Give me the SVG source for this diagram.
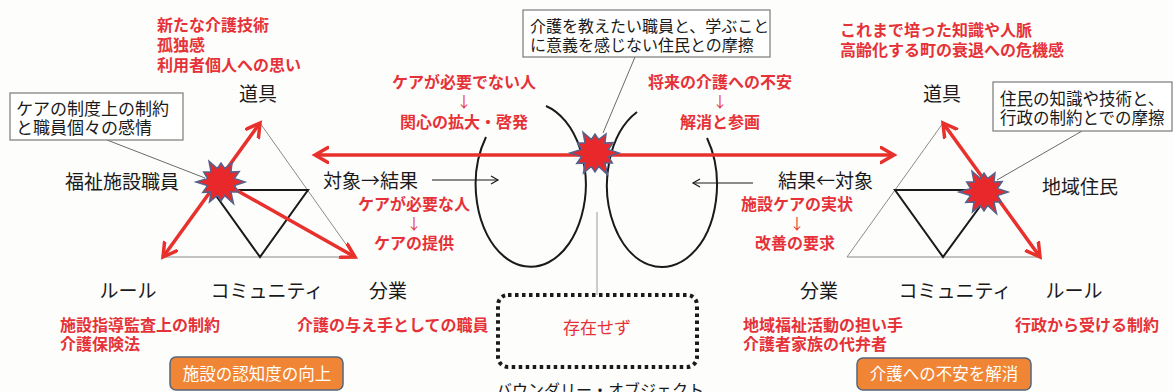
<svg xmlns="http://www.w3.org/2000/svg" width="1173" height="392" viewBox="0 0 1173 392">
<style>
text{font-family:"Noto Sans CJK JP","Noto Sans CJK SC",sans-serif;}
.k{fill:#1a1a1a;font-size:19px;}
.kb{fill:#1a1a1a;font-size:16px;}
.r{fill:#E53238;font-size:16px;font-weight:bold;}
.ar{fill:#E53238;font-size:15px;}
.w{fill:#ffffff;font-size:16.5px;}
.m{text-anchor:middle;}
.tri{fill:none;stroke:#8a8a8a;stroke-width:1;}
.inner{fill:none;stroke:#1a1a1a;stroke-width:2;stroke-linejoin:miter;}
.ra{stroke:#E8302D;stroke-width:3.5;fill:none;marker-start:url(#ah);marker-end:url(#ah);}
.ra1{stroke:#E8302D;stroke-width:3.5;fill:none;marker-end:url(#ah);}
.call{stroke:#6a6a6a;stroke-width:1;fill:none;}
.box{fill:#ffffff;stroke:#7a7a7a;stroke-width:1.2;}
.burst{fill:#E8282A;stroke:#56628E;stroke-width:1.5;stroke-linejoin:miter;}
.ell{fill:none;stroke:#1a1a1a;stroke-width:2;}
.sa{stroke:#1a1a1a;stroke-width:1.2;fill:none;marker-end:url(#sa);}
.ob{fill:#EF8535;stroke:#56657A;stroke-width:1.5;}
</style>
<defs>
<marker id="ah" markerUnits="userSpaceOnUse" markerWidth="18" markerHeight="20" refX="14" refY="9" orient="auto-start-reverse">
<path d="M1,1.5 L14,9 L1,16.5" stroke="#E8302D" stroke-width="3.5" fill="none" stroke-linecap="round" stroke-linejoin="miter"/>
</marker>
<marker id="sa" markerUnits="userSpaceOnUse" markerWidth="10" markerHeight="10" refX="8" refY="5" orient="auto">
<path d="M1,1 L8,5 L1,9" stroke="#1a1a1a" stroke-width="1.2" fill="none"/>
</marker>
<path id="bst" d="M24,0 L13.5,3.6 L17.3,10 L9.9,9.9 L12.5,21.7 L3.6,13.5 L0,19 L-3.6,13.5 L-11.5,19.9 L-9.9,9.9 L-18.2,10.5 L-13.5,3.6 L-25,0 L-13.5,-3.6 L-17.3,-10 L-9.9,-9.9 L-12,-20.8 L-3.6,-13.5 L0,-19 L3.6,-13.5 L11,-19.1 L9.9,-9.9 L18.2,-10.5 L13.5,-3.6 Z"/>
</defs>
<rect x="0" y="0" width="1173" height="392" fill="#FDFDFB"/>

<!-- Left activity system -->
<g id="left-system">
<polygon class="tri" points="260,123 163,257 355,257"/>
<polygon class="inner" points="212,190 308,190 260,257"/>
<text class="r" x="157" y="31">新たな介護技術</text>
<text class="r" x="157" y="51">孤独感</text>
<text class="r" x="157" y="71">利用者個人への思い</text>
<text class="k m" x="258" y="101">道具</text>
<text class="k m" x="122" y="189">福祉施設職員</text>
<text class="k" x="323" y="188">対象→結果</text>
<text class="r m" x="414" y="210">ケアが必要な人</text>
<text class="ar m" x="414" y="229">↓</text>
<text class="r m" x="414" y="249">ケアの提供</text>
<text class="k m" x="128" y="298">ルール</text>
<text class="k m" x="267" y="298">コミュニティ</text>
<text class="k m" x="388" y="298">分業</text>
<text class="r" x="60" y="331">施設指導監査上の制約</text>
<text class="r" x="60" y="350">介護保険法</text>
<text class="r" x="297" y="331">介護の与え手としての職員</text>
</g>

<!-- Right activity system -->
<g id="right-system">
<polygon class="tri" points="943,123 847,257 1040,257"/>
<polygon class="inner" points="895,190 992,190 943,257"/>
<text class="r" x="840" y="36">これまで培った知識や人脈</text>
<text class="r" x="840" y="56">高齢化する町の衰退への危機感</text>
<text class="k m" x="942" y="101">道具</text>
<text class="k m" x="1080" y="194">地域住民</text>
<text class="k" x="778" y="188">結果←対象</text>
<text class="r m" x="797" y="210">施設ケアの実状</text>
<text class="ar m" x="797" y="229">↓</text>
<text class="r m" x="795" y="249">改善の要求</text>
<text class="k m" x="819" y="298">分業</text>
<text class="k m" x="955" y="298">コミュニティ</text>
<text class="k m" x="1074" y="298">ルール</text>
<text class="r" x="743" y="331">地域福祉活動の担い手</text>
<text class="r" x="743" y="350">介護者家族の代弁者</text>
<text class="r" x="1015" y="331">行政から受ける制約</text>
</g>

<!-- Objects (ellipses) -->
<g id="objects">
<path class="ell" d="M486,137 A55,82 0 1 0 546,106"/>
<path class="ell" d="M637,112 A55,82 0 1 0 707,138"/>
<text class="r m" x="464" y="88">ケアが必要でない人</text>
<text class="ar m" x="464" y="107">↓</text>
<text class="r m" x="464" y="128">関心の拡大・啓発</text>
<text class="r m" x="720" y="88">将来の介護への不安</text>
<text class="ar m" x="720" y="107">↓</text>
<text class="r m" x="720" y="128">解消と参画</text>
</g>

<!-- Connectors -->
<g id="connectors">
<line class="sa" x1="432" y1="180" x2="498" y2="180"/>
<line class="sa" x1="753" y1="183" x2="693" y2="183"/>
<line class="call" x1="107" y1="140" x2="205" y2="178"/>
<line class="call" x1="635" y1="57" x2="603" y2="133"/>
<line class="call" x1="1082" y1="131" x2="997" y2="180"/>
<line x1="597" y1="212" x2="597" y2="295" stroke="#9a9a9a" stroke-width="1"/>
<line class="ra" x1="163" y1="257" x2="260" y2="123"/>
<line class="ra1" x1="222" y1="182" x2="355" y2="257"/>
<line class="ra" x1="943" y1="123" x2="1040" y2="257"/>
<line class="ra" x1="315" y1="155" x2="894" y2="155" stroke-width="4"/>
</g>

<!-- Contradiction bursts -->
<g id="burst-left"><use href="#bst" class="burst" transform="translate(221,182)"/></g>
<g id="burst-center"><use href="#bst" class="burst" transform="translate(595,153)"/></g>
<g id="burst-right"><use href="#bst" class="burst" transform="translate(984,192)"/></g>

<!-- Callout boxes -->
<g id="callout-left">
<rect class="box" x="10" y="93" width="173" height="47"/>
<text class="kb" x="16" y="115" style="font-size:17px">ケアの制度上の制約</text>
<text class="kb" x="16" y="134" style="font-size:17px">と職員個々の感情</text>
</g>
<g id="callout-center">
<rect class="box" x="523" y="10" width="247" height="47"/>
<text class="kb" x="530" y="32">介護を教えたい職員と、学ぶこと</text>
<text class="kb" x="530" y="51">に意義を感じない住民との摩擦</text>
</g>
<g id="callout-right">
<rect class="box" x="993" y="82" width="179" height="49"/>
<text class="kb" x="1000" y="105" style="font-size:16.5px">住民の知識や技術と、</text>
<text class="kb" x="1000" y="124" style="font-size:16.5px">行政の制約とでの摩擦</text>
</g>

<!-- Boundary object -->
<g id="boundary-object">
<rect x="498" y="295" width="199" height="72" rx="10" fill="none" stroke="#1a1a1a" stroke-width="4" stroke-dasharray="3.5 3.5"/>
<text class="r m" x="597" y="334" style="font-weight:normal;font-size:17px">存在せず</text>
<text class="k m" x="600" y="396" style="font-size:16px">バウンダリー・オブジェクト</text>
</g>

<!-- Outcome boxes -->
<g id="outcome-left">
<rect class="ob" x="170" y="357" width="173" height="33" rx="6"/>
<text class="w m" x="257" y="380">施設の認知度の向上</text>
</g>
<g id="outcome-right">
<rect class="ob" x="857" y="358" width="174" height="32" rx="6"/>
<text class="w m" x="944" y="380">介護への不安を解消</text>
</g>
</svg>
